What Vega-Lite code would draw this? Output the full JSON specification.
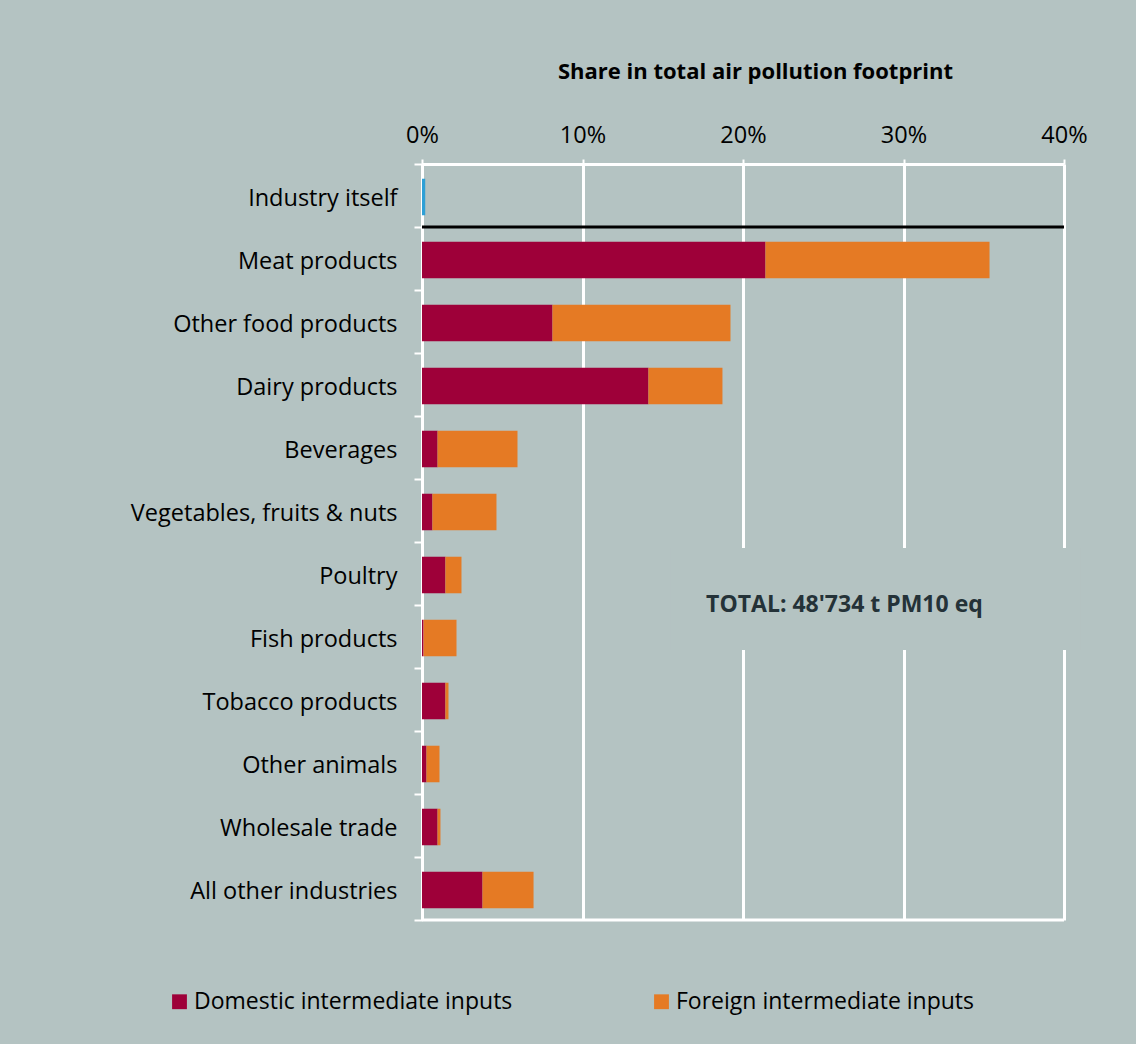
{
  "$schema": "https://vega.github.io/schema/vega-lite/v6.json",
  "width": 642,
  "height": 756,
  "autosize": {"type": "none"},
  "padding": {"left": 422, "top": 164, "right": 72, "bottom": 124},
  "background": "#b4c3c2",
  "config": {
    "view": {"stroke": null},
    "font": "Open Sans"
  },
  "datasets": {
    "bars": [
      {"industry": "Industry itself", "source": "Industry itself", "value": 0.2, "ord": 0},
      {"industry": "Meat products", "source": "Domestic intermediate inputs", "value": 21.4, "ord": 1},
      {"industry": "Meat products", "source": "Foreign intermediate inputs", "value": 13.96, "ord": 2},
      {"industry": "Other food products", "source": "Domestic intermediate inputs", "value": 8.13, "ord": 1},
      {"industry": "Other food products", "source": "Foreign intermediate inputs", "value": 11.09, "ord": 2},
      {"industry": "Dairy products", "source": "Domestic intermediate inputs", "value": 14.11, "ord": 1},
      {"industry": "Dairy products", "source": "Foreign intermediate inputs", "value": 4.61, "ord": 2},
      {"industry": "Beverages", "source": "Domestic intermediate inputs", "value": 0.97, "ord": 1},
      {"industry": "Beverages", "source": "Foreign intermediate inputs", "value": 4.98, "ord": 2},
      {"industry": "Vegetables, fruits & nuts", "source": "Domestic intermediate inputs", "value": 0.65, "ord": 1},
      {"industry": "Vegetables, fruits & nuts", "source": "Foreign intermediate inputs", "value": 3.99, "ord": 2},
      {"industry": "Poultry", "source": "Domestic intermediate inputs", "value": 1.46, "ord": 1},
      {"industry": "Poultry", "source": "Foreign intermediate inputs", "value": 1.0, "ord": 2},
      {"industry": "Fish products", "source": "Domestic intermediate inputs", "value": 0.1, "ord": 1},
      {"industry": "Fish products", "source": "Foreign intermediate inputs", "value": 2.05, "ord": 2},
      {"industry": "Tobacco products", "source": "Domestic intermediate inputs", "value": 1.46, "ord": 1},
      {"industry": "Tobacco products", "source": "Foreign intermediate inputs", "value": 0.19, "ord": 2},
      {"industry": "Other animals", "source": "Domestic intermediate inputs", "value": 0.28, "ord": 1},
      {"industry": "Other animals", "source": "Foreign intermediate inputs", "value": 0.81, "ord": 2},
      {"industry": "Wholesale trade", "source": "Domestic intermediate inputs", "value": 0.97, "ord": 1},
      {"industry": "Wholesale trade", "source": "Foreign intermediate inputs", "value": 0.18, "ord": 2},
      {"industry": "All other industries", "source": "Domestic intermediate inputs", "value": 3.77, "ord": 1},
      {"industry": "All other industries", "source": "Foreign intermediate inputs", "value": 3.18, "ord": 2}
    ],
    "note": [{"label": "TOTAL: 48'734 t PM10 eq"}],
    "one": [{"k": 1}]
  },
  "layer": [
    {
      "data": {"name": "bars"},
      "mark": {"type": "bar", "height": {"band": 0.58}, "yOffset": 1.5},
      "encoding": {
        "y": {
          "field": "industry",
          "type": "nominal",
          "scale": {
            "domain": ["Industry itself", "Meat products", "Other food products", "Dairy products", "Beverages", "Vegetables, fruits & nuts", "Poultry", "Fish products", "Tobacco products", "Other animals", "Wholesale trade", "All other industries"],
            "paddingInner": 0,
            "paddingOuter": 0
          },
          "axis": {
            "title": null,
            "labelFontSize": 23.5,
            "labelColor": "#000000",
            "labelPadding": 17,
            "labelOffset": 3,
            "tickSize": 8,
            "tickColor": "#ffffff",
            "tickWidth": 2,
            "tickBand": "extent",
            "domainColor": "#ffffff",
            "domainWidth": 3,
            "labelLimit": 400
          }
        },
        "x": {
          "field": "value",
          "type": "quantitative",
          "stack": "zero",
          "scale": {"domain": [0, 40], "nice": false},
          "axis": {
            "orient": "top",
            "domain": true,
            "title": "Share in total air pollution footprint",
            "titleFontSize": 22,
            "titleFontWeight": "bold",
            "titleColor": "#000000",
            "titlePadding": 40,
            "titleX": 333,
            "values": [0, 10, 20, 30, 40],
            "labelExpr": "datum.value + '%'",
            "labelFlush": false,
            "labelFontSize": 23.5,
            "labelColor": "#000000",
            "labelPadding": 12,
            "tickSize": 5,
            "tickColor": "#ffffff",
            "tickWidth": 2,
            "domainColor": "#ffffff",
            "domainWidth": 3,
            "grid": true,
            "gridColor": "#ffffff",
            "gridWidth": 3
          }
        },
        "color": {
          "field": "source",
          "type": "nominal",
          "scale": {
            "domain": ["Domestic intermediate inputs", "Foreign intermediate inputs", "Industry itself"],
            "range": ["#9e0039", "#e57a24", "#2ea0d6"]
          },
          "legend": {
            "values": ["Domestic intermediate inputs", "Foreign intermediate inputs"],
            "title": null,
            "orient": "none",
            "legendX": -254,
            "legendY": 826,
            "direction": "horizontal",
            "columnPadding": 137,
            "symbolType": "square",
            "symbolSize": 220,
            "symbolStrokeWidth": 0,
            "labelFontSize": 23,
            "labelColor": "#000000",
            "labelOffset": 3,
            "labelLimit": 500
          }
        },
        "order": {"field": "ord", "type": "quantitative"}
      }
    },
    {
      "data": {"name": "one"},
      "mark": {"type": "bar", "color": "#b4c3c2", "height": {"band": 1.62}},
      "encoding": {
        "y": {"datum": "Poultry", "type": "nominal"},
        "yOffset": {"value": 25.5},
        "x": {"datum": 15.5, "type": "quantitative"},
        "x2": {"datum": 41}
      }
    },
    {
      "data": {"name": "note"},
      "mark": {"type": "text", "align": "left", "baseline": "middle", "dy": 31, "fontSize": 23, "fontWeight": "bold", "color": "#243238"},
      "encoding": {
        "y": {"datum": "Poultry", "type": "nominal"},
        "x": {"datum": 17.7, "type": "quantitative"},
        "text": {"field": "label"}
      }
    },
    {
      "data": {"name": "one"},
      "mark": {"type": "rule", "color": "#000000", "strokeWidth": 3},
      "encoding": {
        "y": {"datum": "Meat products", "type": "nominal", "bandPosition": 0},
        "x": {"datum": 0, "type": "quantitative"},
        "x2": {"datum": 40}
      }
    },
    {
      "data": {"name": "one"},
      "mark": {"type": "rule", "color": "#ffffff", "strokeWidth": 3},
      "encoding": {
        "y": {"datum": "All other industries", "type": "nominal", "bandPosition": 1},
        "x": {"datum": 0, "type": "quantitative"},
        "x2": {"datum": 40}
      }
    }
  ]
}
